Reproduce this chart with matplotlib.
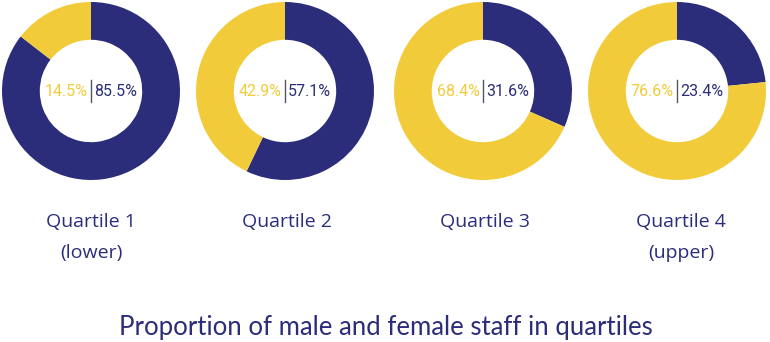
import matplotlib.pyplot as plt

# data
quartiles = ['Quartile 1', 'Quartile 2', 'Quartile 3', 'Quartile 4']
sublabels = ['(lower)', '', '', '(upper)']
female = [14.5, 42.9, 68.4, 76.6]
male = [85.5, 57.1, 31.6, 23.4]

navy = '#2b2d7a'
yellow = '#f2cb3a'

W, H = 770, 342
fig = plt.figure(figsize=(W / 100, H / 100), dpi=100)

centers_x = [91, 285, 483, 677]
label_x = [91, 287, 485, 681]
cy = 91
half = 90

for i in range(4):
    cx = centers_x[i]
    ax = fig.add_axes([(cx - half) / W, (H - cy - half) / H, 2 * half / W, 2 * half / H])
    # male clockwise from 12 o'clock, female fills the rest
    ax.pie([male[i], female[i]], colors=[navy, yellow], startangle=90, counterclock=False,
           radius=89 / 90, wedgeprops=dict(width=0.42, edgecolor='none'))
    ax.set_xlim(-1, 1)
    ax.set_ylim(-1, 1)
    ax.set_aspect('equal')
    ax.axis('off')
    ax.text(-0.035, 0, '%.1f%%' % female[i], color=yellow, ha='right', va='center',
            fontsize=11.5, family='Roboto')
    ax.text(0.035, 0, '%.1f%%' % male[i], color=navy, ha='left', va='center',
            fontsize=11.5, family='Roboto')
    ax.plot([0, 0], [-0.12, 0.12], color='#555566', lw=1)
    fig.text(label_x[i] / W, 1 - 222 / H, quartiles[i], color=navy, ha='center', va='center',
             fontsize=14, family='Open Sans')
    if sublabels[i]:
        fig.text(label_x[i] / W, 1 - 253 / H, sublabels[i], color=navy, ha='center', va='center',
                 fontsize=14, family='Open Sans')

fig.text(386 / W, 1 - 327 / H, 'Proportion of male and female staff in quartiles',
         color=navy, ha='center', va='center', fontsize=18.5, family='Lato')

fig.savefig('out.png', dpi=100, facecolor='white')
